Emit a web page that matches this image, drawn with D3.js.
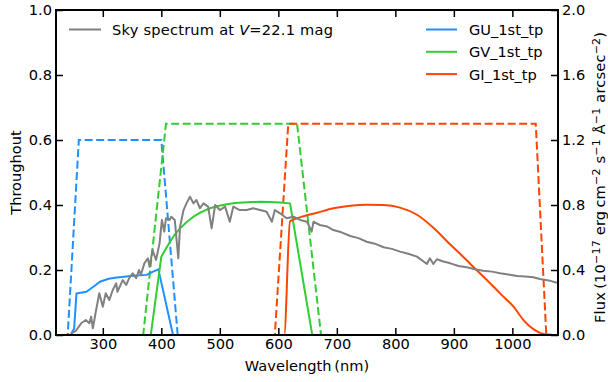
<!DOCTYPE html>
<html lang="en">
<head>
<meta charset="utf-8">
<title>Throughput and sky spectrum</title>
<script src="https://cdn.jsdelivr.net/npm/d3@7"></script>
<style>
  body { margin: 0; background: #fff; }
  text { font-family: "DejaVu Sans", sans-serif; fill: #000; }
</style>
</head>
<body>
<script>
// tick values
var waveTicks = [300, 400, 500, 600, 700, 800, 900, 1000];
var thruTicks = [0, 0.2, 0.4, 0.6, 0.8, 1.0];
var fluxTicks = [0, 0.4, 0.8, 1.2, 1.6, 2.0];

// sky spectrum (flux, right axis)
var skyWave = [246, 254, 263, 271, 277, 280, 283, 288, 294, 300, 305, 311, 317, 323, 325, 334, 340, 345, 351, 357,
               362, 365, 371, 377, 380, 385, 391, 397, 401, 405, 408, 414, 417, 423, 429, 432, 438, 443, 449, 455,
               460, 466, 472, 480, 486, 492, 500, 509, 517, 523, 534, 546, 557, 569, 580, 589, 594, 603, 614, 626,
               637, 649, 657, 660, 671, 683, 694, 708, 723, 737, 751, 765, 780, 794, 808, 822, 837, 854, 859, 865,
               871, 882, 894, 908, 922, 936, 950, 965, 979, 993, 1008, 1022, 1036, 1047, 1062, 1076];
var skyFlux = [0.01, 0.026, 0.072, 0.092, 0.072, 0.113, 0.041, 0.143, 0.257, 0.174, 0.257, 0.215, 0.277, 0.318, 0.266, 0.338, 0.308, 0.349, 0.38, 0.349,
               0.40, 0.369, 0.441, 0.472, 0.42, 0.523, 0.462, 0.564, 0.708, 0.636, 0.718, 0.708, 0.728, 0.708, 0.472, 0.666, 0.769, 0.81, 0.851, 0.81,
               0.831, 0.78, 0.81, 0.79, 0.657, 0.80, 0.769, 0.79, 0.697, 0.79, 0.769, 0.769, 0.78, 0.769, 0.759, 0.697, 0.769, 0.749, 0.718, 0.728,
               0.708, 0.697, 0.636, 0.697, 0.677, 0.668, 0.646, 0.632, 0.609, 0.596, 0.574, 0.562, 0.54, 0.53, 0.513, 0.500, 0.482, 0.437, 0.472, 0.437,
               0.466, 0.452, 0.441, 0.425, 0.417, 0.405, 0.396, 0.390, 0.38, 0.372, 0.363, 0.360, 0.355, 0.345, 0.336, 0.322];

// ideal (dashed) throughputs
var guIdealWave = [230, 240, 259, 400, 428, 1075];
var guIdealThru = [0, 0, 0.6, 0.6, 0, 0];
var gvIdealWave = [230, 369, 408, 632, 673, 1075];
var gvIdealThru = [0, 0, 0.65, 0.65, 0, 0];
var giIdealWave = [230, 594, 617, 1040, 1058, 1075];
var giIdealThru = [0, 0, 0.65, 0.65, 0, 0];

// 1st_tp (solid) throughputs
var guWave = [230, 245, 251, 255, 272, 285, 295, 310, 324, 352, 375, 386, 395, 420, 1075];
var guThru = [0, 0, 0.02, 0.128, 0.133, 0.15, 0.164, 0.173, 0.177, 0.182, 0.185, 0.195, 0.202, 0, 0];
var gvWave = [230, 382, 400, 408, 415, 423, 432, 443, 455, 468, 483, 497, 512, 526, 540, 555, 569, 586, 603, 620, 658, 1075];
var gvThru = [0, 0, 0.241, 0.266, 0.287, 0.309, 0.328, 0.347, 0.364, 0.378, 0.39, 0.397, 0.402, 0.406, 0.408, 0.409, 0.41, 0.409, 0.408, 0.405, 0, 0];
var giWave = [230, 610, 620, 637, 666, 694, 723, 751, 780, 808, 837, 865, 893, 922, 933, 956, 979, 1002, 1019, 1036, 1050, 1065, 1075];
var giThru = [0, 0, 0.35, 0.362, 0.376, 0.39, 0.398, 0.401, 0.4, 0.392, 0.37, 0.33, 0.28, 0.23, 0.21, 0.17, 0.128, 0.087, 0.046, 0.018, 0.005, 0.001, 0];

(function() {
  var w = 608, h = 382;
  var pLeft = 56, pRight = 558, pTop = 10, pBottom = 335;

  var svg = d3.select("body").append("svg")
    .attr("width", w)
    .attr("height", h);

  var x = d3.scaleLinear().domain([220, 1078]).range([pLeft, pRight]);
  var yT = d3.scaleLinear().domain([0, 1]).range([pBottom, pTop]);
  var yF = d3.scaleLinear().domain([0, 2]).range([pBottom, pTop]);

  function zip(a, b) { return a.map(function(d, i) { return [d, b[i]]; }); }

  var lineT = d3.line().x(function(d) { return x(d[0]); }).y(function(d) { return yT(d[1]); });
  var smoothT = d3.line().curve(d3.curveMonotoneX).x(function(d) { return x(d[0]); }).y(function(d) { return yT(d[1]); });
  var lineF = d3.line().x(function(d) { return x(d[0]); }).y(function(d) { return yF(d[1]); });

  var blue = "#1e90ff", green = "#32cd32", orange = "#ff4500", gray = "#808080";

  svg.append("clipPath").attr("id", "clip")
    .append("rect").attr("x", pLeft).attr("y", pTop).attr("width", pRight - pLeft).attr("height", pBottom - pTop);

  var plot = svg.append("g").attr("clip-path", "url(#clip)");

  // dashed ideal curves
  [[guIdealWave, guIdealThru, blue], [gvIdealWave, gvIdealThru, green], [giIdealWave, giIdealThru, orange]].forEach(function(s) {
    plot.append("path")
      .attr("d", lineT(zip(s[0], s[1])))
      .attr("fill", "none")
      .attr("stroke", s[2])
      .attr("stroke-width", 2)
      .attr("stroke-dasharray", "8,3.5");
  });

  // solid measured curves
  [[guWave, guThru, blue, lineT], [gvWave, gvThru, green, lineT], [giWave, giThru, orange, smoothT]].forEach(function(s) {
    plot.append("path")
      .attr("d", s[3](zip(s[0], s[1])))
      .attr("fill", "none")
      .attr("stroke", s[2])
      .attr("stroke-width", 2)
      .attr("stroke-linejoin", "round");
  });

  // sky spectrum on the flux axis
  plot.append("path")
    .attr("d", lineF(zip(skyWave, skyFlux)))
    .attr("fill", "none")
    .attr("stroke", gray)
    .attr("stroke-width", 2)
    .attr("stroke-linejoin", "round");

  // axes, ticks pointing inside
  function styleAxis(g) {
    g.select(".domain").remove();
    g.selectAll(".tick line").attr("stroke", "#000").attr("stroke-width", 1.5);
    g.selectAll(".tick text").attr("font-size", "14.6px").attr("fill", "#000");
  }

  svg.append("g").attr("transform", "translate(0," + pBottom + ")")
    .call(d3.axisBottom(x).tickValues(waveTicks).tickSizeInner(-7).tickSizeOuter(0).tickPadding(4).tickFormat(d3.format("d")))
    .call(styleAxis);
  svg.append("g").attr("transform", "translate(0," + pTop + ")")
    .call(d3.axisTop(x).tickValues(waveTicks).tickSizeInner(-7).tickSizeOuter(0).tickFormat(""))
    .call(styleAxis);
  svg.append("g").attr("transform", "translate(" + pLeft + ",0)")
    .call(d3.axisLeft(yT).tickValues(thruTicks).tickSizeInner(-7).tickSizeOuter(0).tickPadding(4).tickFormat(d3.format(".1f")))
    .call(styleAxis);
  svg.append("g").attr("transform", "translate(" + pRight + ",0)")
    .call(d3.axisRight(yF).tickValues(fluxTicks).tickSizeInner(-7).tickSizeOuter(0).tickPadding(4).tickFormat(d3.format(".1f")))
    .call(styleAxis);

  // frame
  svg.append("rect")
    .attr("x", pLeft).attr("y", pTop)
    .attr("width", pRight - pLeft).attr("height", pBottom - pTop)
    .attr("fill", "none").attr("stroke", "#000").attr("stroke-width", 2);

  // axis labels
  svg.append("text")
    .attr("x", (pLeft + pRight) / 2).attr("y", 371)
    .attr("text-anchor", "middle").attr("font-size", "14.6px")
    .text("Wavelength\u2009(nm)");

  svg.append("text")
    .attr("transform", "translate(21," + (pTop + pBottom) / 2 + ") rotate(-90)")
    .attr("text-anchor", "middle").attr("font-size", "14.6px")
    .text("Throughout");

  var flux = svg.append("text")
    .attr("transform", "translate(605,177.5) rotate(-90)")
    .attr("text-anchor", "middle").attr("font-size", "14.6px")
    .attr("textLength", 291).attr("lengthAdjust", "spacing");
  var fluxParts = [["Flux\u2009(10", false], ["\u221217", true], [" erg\u2009cm", false], ["\u22122", true], [" s", false], ["\u22121", true],
                   [" \u00c5", false], ["\u22121", true], [" arcsec", false], ["\u22122", true], [")", false]];
  fluxParts.forEach(function(p) {
    flux.append("tspan")
      .attr("font-size", p[1] ? "11px" : "14.6px")
      .attr("baseline-shift", p[1] ? "42%" : null)
      .text(p[0]);
  });

  // legends
  var legL = svg.append("g");
  legL.append("line").attr("x1", 69).attr("x2", 101).attr("y1", 29.5).attr("y2", 29.5)
    .attr("stroke", gray).attr("stroke-width", 2);
  var skyText = legL.append("text").attr("x", 112).attr("y", 35).attr("font-size", "14.6px")
    .attr("textLength", 221).attr("lengthAdjust", "spacing");
  skyText.append("tspan").text("Sky spectrum at ");
  skyText.append("tspan").attr("font-style", "italic").text("V");
  skyText.append("tspan").text("=22.1 mag");

  var legNames = ["GU_1st_tp", "GV_1st_tp", "GI_1st_tp"];
  var legColors = [blue, green, orange];
  var legR = svg.append("g").selectAll("g").data(legNames).enter().append("g")
    .attr("transform", function(d, i) { return "translate(0," + (i * 22.3) + ")"; });
  legR.append("line").attr("x1", 426).attr("x2", 457).attr("y1", 29.5).attr("y2", 29.5)
    .attr("stroke", function(d, i) { return legColors[i]; }).attr("stroke-width", 2);
  legR.append("text").attr("x", 469).attr("y", 35).attr("font-size", "14.6px")
    .text(function(d) { return d; });
})();
</script>
</body>
</html>
